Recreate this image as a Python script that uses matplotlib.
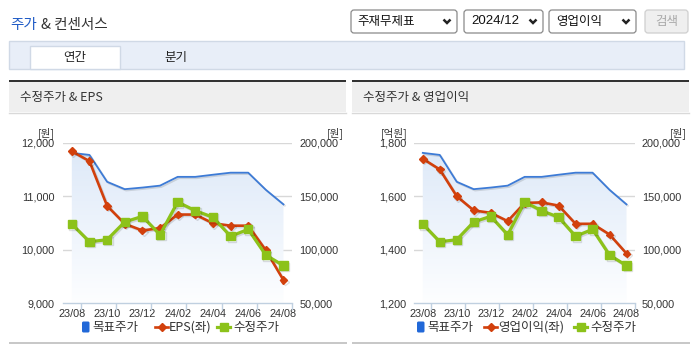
import matplotlib
matplotlib.use('Agg')
import matplotlib.pyplot as plt
import numpy as np
from matplotlib import font_manager
from matplotlib.patches import Rectangle, FancyBboxPatch, Polygon
from matplotlib.colors import LinearSegmentedColormap
import matplotlib.patheffects as pe

# ---------------- data ----------------
months = ['23/08', '23/09', '23/10', '23/11', '23/12', '24/01', '24/02',
          '24/03', '24/04', '24/05', '24/06', '24/07', '24/08']
tick_labels = ['23/08', '23/10', '23/12', '24/02', '24/04', '24/06', '24/08']
target_price = [190500, 188600, 163500, 156600, 158100, 159900, 168100,
                168100, 170100, 172000, 172000, 156000, 142400]
adj_price = [124000, 107500, 109400, 126000, 131200, 114000, 144600,
             136500, 130400, 112600, 119100, 95000, 85200]
eps = [11840, 11655, 10820, 10485, 10360, 10405, 10658,
       10658, 10495, 10450, 10450, 9990, 9433]
op_profit = [1740, 1700, 1600, 1547, 1538, 1507, 1575,
             1577, 1565, 1497, 1497, 1457, 1386]
right_ticks = [50000, 100000, 150000, 200000]
eps_ticks = [9000, 10000, 11000, 12000]
op_ticks = [1200, 1400, 1600, 1800]

# ---------------- fonts ----------------
names = {f.name for f in font_manager.fontManager.ttflist}
NUMF = 'Liberation Sans Narrow' if 'Liberation Sans Narrow' in names else 'Liberation Sans'
KR = ['Noto Sans CJK KR', 'DejaVu Sans']
NUM = [NUMF, 'DejaVu Sans']

W, H = 695, 349
fig = plt.figure(figsize=(W / 100, H / 100), dpi=100)
fig.patch.set_facecolor('white')

bg = fig.add_axes([0, 0, 1, 1], zorder=0)
bg.set_xlim(0, W)
bg.set_ylim(H, 0)
bg.axis('off')


def box(x0, y0, x1, y1):
    return [x0 / W, 1 - y1 / H, (x1 - x0) / W, (y1 - y0) / H]


# ---------------- page header ----------------
bg.text(10, 25, '주가', color='#1f5bc6', fontsize=10.5, family=KR, va='center', ha='left')
bg.text(41, 25, '& 컨센서스', color='#333333', fontsize=10.5, family=KR, va='center', ha='left')

selects = [(351, 457, '주재무제표', 357), (464, 543, '2024/12', 471), (549, 636, '영업이익', 556)]
for x0, x1, label, tx in selects:
    bg.add_patch(FancyBboxPatch((x0, 10), x1 - x0, 23, boxstyle='round,pad=0,rounding_size=3',
                                facecolor='white', edgecolor='#8a8a8a', lw=0.9))
    fam = NUM if label[0].isdigit() else KR
    bg.text(tx, 21.5, label, fontsize=9 if fam is KR else 9.5, family=fam, color='#111111',
            va='center', ha='left')
    cx = x1 - 10
    bg.plot([cx - 3.5, cx, cx + 3.5], [19.5, 23, 19.5], color='#222222', lw=1.8,
            solid_capstyle='butt', solid_joinstyle='miter')
bg.add_patch(FancyBboxPatch((645, 10), 43, 23, boxstyle='round,pad=0,rounding_size=3',
                            facecolor='#efefef', edgecolor='#cfcfcf', lw=0.9))
bg.text(666.5, 21.5, '검색', fontsize=9, family=KR, color='#a8a8a8', va='center', ha='center')

# tabs
bg.add_patch(Rectangle((9, 40.5), 675, 28.5, facecolor='#e8eef8', edgecolor='#d0d9e6', lw=1))
bg.add_patch(Rectangle((29.5, 45.5), 90.5, 23.5, facecolor='white', edgecolor='#d0d9e6', lw=1))
bg.text(75, 57, '연간', fontsize=9, family=KR, color='#222222', va='center', ha='center')
bg.text(176, 57, '분기', fontsize=9, family=KR, color='#222222', va='center', ha='center')

# panels
for px0, px1, title in [(9, 346, '수정주가 & EPS'), (352, 689, '수정주가 & 영업이익')]:
    bg.add_patch(Rectangle((px0, 80), px1 - px0, 2.2, facecolor='#333333', edgecolor='none'))
    bg.add_patch(Rectangle((px0, 82), px1 - px0, 30, facecolor='#efefef', edgecolor='none'))
    bg.plot([px0, px1], [112.5, 112.5], color='#d9d9d9', lw=1)
    bg.add_patch(Rectangle((px0, 342), px1 - px0 + 1, 2.2, facecolor='#c8c8c8', edgecolor='none'))
    bg.text(px0 + 11, 97.5, title, fontsize=9, family=KR, color='#333333', va='center', ha='left')

BLUE = '#3d7bd6'
RED = '#d2400c'
GREEN = '#8cc21a'
x = np.arange(len(months))
shadow = [pe.SimpleLineShadow(offset=(1, -1), shadow_color='black', alpha=0.12), pe.Normal()]


def chart(x0, x1, left_vals, left_ticks, left_unit, lu_x, ru_x, left_name, leg):
    y0, y1 = 142.7, 303.3
    ax2 = fig.add_axes(box(x0, y0, x1, y1), zorder=1, label='r' + left_name)
    ax = fig.add_axes(box(x0, y0, x1, y1), zorder=2, label='l' + left_name)
    ax3 = fig.add_axes(box(x0, y0, x1, y1), zorder=3, label='g' + left_name)
    for a in (ax, ax3):
        a.patch.set_visible(False)

    # right-scale axes: gradient area + target price line + grid
    verts = [(x[0], right_ticks[0])] + list(zip(x, target_price)) + [(x[-1], right_ticks[0])]
    poly = Polygon(verts, closed=True, facecolor='none', edgecolor='none')
    ax2.add_patch(poly)
    grad = np.linspace(0, 1, 256).reshape(-1, 1)
    cmap = LinearSegmentedColormap.from_list('g', ['#fdfeff', '#dce8f8'])
    im = ax2.imshow(grad, extent=(-0.5, 12.5, right_ticks[0], right_ticks[-1]), origin='lower',
                    aspect='auto', cmap=cmap, zorder=0.5)
    im.set_clip_path(poly)
    ax2.plot(x, target_price, color=BLUE, lw=1.3, zorder=2, path_effects=shadow)
    ax2.set_ylim(right_ticks[0], right_ticks[-1])
    ax2.set_xlim(-0.5, 12.5)
    ax2.set_yticks(right_ticks)
    ax2.set_yticklabels([f'{v:,}' for v in right_ticks], family=NUM, fontsize=7.8, color='#333333')
    ax2.yaxis.tick_right()
    ax2.tick_params(axis='y', length=0, pad=5)
    for v in right_ticks[1:]:
        ax2.axhline(v, color='#d8d8d8', lw=1, zorder=0.3)
    for s in ('left', 'right', 'top'):
        ax2.spines[s].set_visible(False)
    ax2.spines['bottom'].set_color('#c0d0e0')
    ax2.spines['bottom'].set_linewidth(1)
    ax2.set_xticks(x[::2])
    ax2.set_xticklabels(tick_labels, family=NUM, fontsize=7.8, color='#333333')
    ax2.set_xticks(np.arange(-0.5, 13, 2) + 1, minor=True)
    ax2.tick_params(axis='x', which='major', length=0, pad=4)
    ax2.tick_params(axis='x', which='minor', length=5, color='#c0d0e0', width=1)

    # left-scale axes: red series
    ax.plot(x, left_vals, color=RED, lw=1.9, marker='D', markersize=4.0, zorder=3,
            clip_on=False, path_effects=shadow)
    ax.set_ylim(left_ticks[0], left_ticks[-1])
    ax.set_xlim(-0.5, 12.5)
    ax.set_yticks(left_ticks)
    ax.set_yticklabels([f'{v:,}' for v in left_ticks], family=NUM, fontsize=7.8, color='#333333')
    ax.tick_params(axis='y', length=0, pad=6)
    ax.set_xticks([])
    for s in ax.spines.values():
        s.set_visible(False)

    # right-scale axes: adjusted price
    ax3.plot(x, adj_price, color=GREEN, lw=2.3, marker='s', markersize=6.0, zorder=3,
             clip_on=False, path_effects=shadow)
    ax3.set_ylim(right_ticks[0], right_ticks[-1])
    ax3.set_xlim(-0.5, 12.5)
    ax3.axis('off')

    # unit labels
    bg.text(lu_x, 133, left_unit, fontsize=7.6, family=KR, color='#333333', ha='center', va='center')
    bg.text(ru_x, 133, '[원]', fontsize=7.6, family=KR, color='#333333', ha='center', va='center')

    # legend
    bx, rl, gl = leg
    ly = 327
    bg.add_patch(FancyBboxPatch((bx, ly - 5.5), 7.5, 11, boxstyle='round,pad=0,rounding_size=1.5',
                                facecolor='#2168d8', edgecolor='none'))
    bg.text(bx + 10, ly, '목표주가', fontsize=9, family=KR, color='#333333', va='center', ha='left')
    bg.plot([rl, rl + 13], [ly, ly], color=RED, lw=1.9)
    bg.plot([rl + 6.5], [ly], marker='D', color=RED, markersize=4.0)
    bg.text(rl + 14, ly, left_name, fontsize=9, family=KR, color='#333333', va='center', ha='left')
    bg.plot([gl, gl + 13], [ly, ly], color=GREEN, lw=2.3)
    bg.plot([gl + 6.5], [ly], marker='s', color=GREEN, markersize=6.0)
    bg.text(gl + 16, ly, '수정주가', fontsize=9, family=KR, color='#333333', va='center', ha='left')


chart(63, 292.3, eps, eps_ticks, '[원]', 46, 335, 'EPS(좌)', (82, 155, 217))
chart(414.3, 635, op_profit, op_ticks, '[억원]', 394, 678, '영업이익(좌)', (417, 484, 574))

fig.savefig('out.png', dpi=100, facecolor='white')
